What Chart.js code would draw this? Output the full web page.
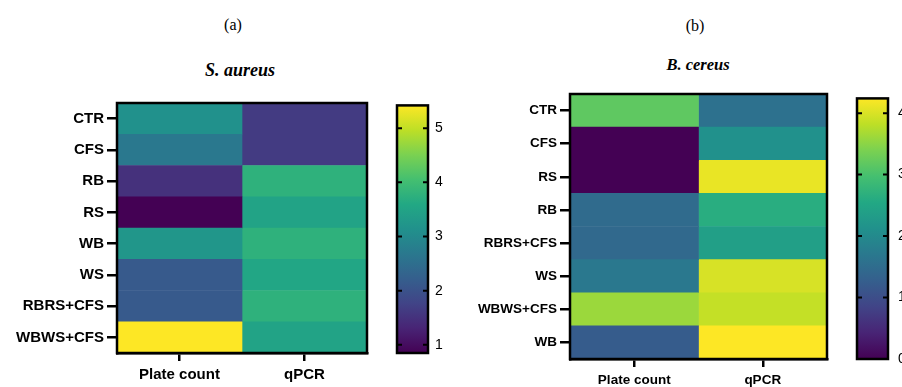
<!DOCTYPE html>
<html>
<head>
<meta charset="utf-8">
<script src="https://cdn.jsdelivr.net/npm/chart.js@4/dist/chart.umd.min.js"></script>
<style>
    body { margin: 0; background: #fff; }
    #wrap { position: relative; width: 902px; height: 387px; overflow: hidden; background: #fff; }
    canvas { position: absolute; }
    .lbl { position: absolute; width: 200px; text-align: center; font-family: 'Liberation Serif', 'Times New Roman', serif; color: #000; }
    .sp { font-weight: bold; font-style: italic; }
</style>
</head>
<body>
<div id="wrap">
    <div class="lbl" style="left:133px; top:14px; font-size:16px; line-height:22px;">(a)</div>
    <div class="lbl sp" style="left:140px; top:59px; font-size:18px; line-height:22px;">S. aureus</div>
    <div class="lbl" style="left:595px; top:15px; font-size:16px; line-height:22px;">(b)</div>
    <div class="lbl sp" style="left:598px; top:54px; font-size:16.5px; line-height:22px;">B. cereus</div>

    <canvas id="heatA" width="380" height="297" style="left:0; top:90px;"></canvas>
    <canvas id="barA" width="70" height="297" style="left:380px; top:90px;"></canvas>
    <canvas id="heatB" width="390" height="307" style="left:450px; top:80px;"></canvas>
    <canvas id="barB" width="80" height="307" style="left:840px; top:80px;"></canvas>
</div>
<script>
// data
const columns = ['Plate count', 'qPCR'];

const rowsA = ['CTR', 'CFS', 'RB', 'RS', 'WB', 'WS', 'RBRS+CFS', 'WBWS+CFS'];
const plateA = [3.14, 2.68, 1.49, 0.85, 3.23, 2.13, 2.13, 5.42];
const qpcrA = [1.63, 1.63, 3.77, 3.50, 3.77, 3.55, 3.77, 3.50];
const rangeA = [0.85, 5.42];
const ticksA = [1, 2, 3, 4, 5];

const rowsB = ['CTR', 'CFS', 'RS', 'RB', 'RBRS+CFS', 'WS', 'WBWS+CFS', 'WB'];
const plateB = [3.18, 0, 0, 1.48, 1.44, 1.70, 3.60, 1.23];
const qpcrB = [1.57, 2.12, 4.11, 2.63, 2.37, 3.99, 3.86, 4.24];
const rangeB = [0, 4.24];
const ticksB = [0, 1, 2, 3, 4];

Chart.defaults.font.family = "'Liberation Sans', Arial, sans-serif";
Chart.defaults.color = '#000';

// viridis colormap stops
const viridis = ['#440154', '#482475', '#414487', '#355f8d', '#2a788e', '#21918c',
    '#22a884', '#44bf70', '#7ad151', '#bddf26', '#fde725'];

function hexRgb(h) {
    return [parseInt(h.slice(1, 3), 16), parseInt(h.slice(3, 5), 16), parseInt(h.slice(5, 7), 16)];
}

function viridisColor(t) {
    t = Math.max(0, Math.min(1, t));
    const p = t * (viridis.length - 1);
    const i = Math.min(Math.floor(p), viridis.length - 2);
    const f = p - i;
    const a = hexRgb(viridis[i]), b = hexRgb(viridis[i + 1]);
    const c = a.map((v, k) => Math.round(v + (b[k] - v) * f));
    return `rgb(${c[0]}, ${c[1]}, ${c[2]})`;
}

const framePlugin = {
    id: 'frame',
    afterDatasetsDraw(chart) {
        const { ctx, chartArea: a } = chart;
        ctx.save();
        ctx.strokeStyle = '#000';
        ctx.lineWidth = 2.5;
        ctx.strokeRect(a.left, a.top, a.right - a.left, a.bottom - a.top);
        ctx.restore();
    }
};

// small inward tick marks on both sides of the colour bar
const innerTicks = {
    id: 'innerTicks',
    afterDatasetsDraw(chart) {
        const { ctx, chartArea: a } = chart;
        const y = chart.scales.y;
        ctx.save();
        ctx.strokeStyle = '#000';
        ctx.lineWidth = 2;
        y.ticks.forEach(t => {
            const py = y.getPixelForValue(t.value);
            ctx.beginPath();
            ctx.moveTo(a.left, py); ctx.lineTo(a.left + 5, py);
            ctx.moveTo(a.right - 5, py); ctx.lineTo(a.right, py);
            ctx.stroke();
        });
        ctx.restore();
    }
};

function createHeatmap(id, rows, values, range, opts) {
    const span = range[1] - range[0];
    new Chart(document.getElementById(id), {
        type: 'bar',
        data: {
            labels: rows,
            datasets: columns.map((c, j) => ({
                label: c,
                data: rows.map(() => [j, j + 1]),
                backgroundColor: values[j].map(v => viridisColor((v - range[0]) / span)),
                barPercentage: 1,
                categoryPercentage: 1,
                grouped: false,
                borderWidth: 0
            }))
        },
        options: {
            indexAxis: 'y',
            responsive: false,
            animation: false,
            layout: { padding: opts.padding },
            plugins: { legend: { display: false }, tooltip: { enabled: false } },
            scales: {
                x: {
                    type: 'linear',
                    min: 0,
                    max: 2,
                    afterBuildTicks: (scale) => { scale.ticks = [{ value: 0.5 }, { value: 1.5 }]; },
                    afterFit: (scale) => { scale.height = opts.xHeight; },
                    ticks: {
                        callback: (v, i) => columns[i],
                        font: { size: opts.fontSize, weight: 'bold' },
                        padding: 5,
                        maxRotation: 0
                    },
                    grid: { drawOnChartArea: false, tickLength: 8, color: '#000', lineWidth: 2.5 },
                    border: { color: '#000', width: 2.5 }
                },
                y: {
                    afterFit: (scale) => { scale.width = opts.yWidth; },
                    ticks: { font: { size: opts.fontSize, weight: 'bold' }, padding: 3 },
                    grid: { offset: false, drawOnChartArea: false, tickLength: 10, color: '#000', lineWidth: 2.5 },
                    border: { color: '#000', width: 2.5 }
                }
            }
        },
        plugins: [framePlugin]
    });
}

function createColorbar(id, range, tickList, opts) {
    new Chart(document.getElementById(id), {
        type: 'bar',
        data: {
            labels: [''],
            datasets: [{
                data: [range],
                backgroundColor: (context) => {
                    const area = context.chart.chartArea;
                    if (!area) return viridis[0];
                    const g = context.chart.ctx.createLinearGradient(0, area.bottom, 0, area.top);
                    viridis.forEach((c, i) => g.addColorStop(i / (viridis.length - 1), c));
                    return g;
                },
                barPercentage: 1,
                categoryPercentage: 1,
                borderWidth: 0
            }]
        },
        options: {
            responsive: false,
            animation: false,
            layout: { padding: opts.padding },
            plugins: { legend: { display: false }, tooltip: { enabled: false } },
            scales: {
                x: { display: false },
                y: {
                    position: 'right',
                    min: range[0],
                    max: range[1],
                    afterBuildTicks: (scale) => { scale.ticks = tickList.map(v => ({ value: v })); },
                    afterFit: (scale) => { scale.width = opts.yWidth; },
                    ticks: { font: { size: 14 }, padding: opts.tickPad },
                    grid: { display: false, drawTicks: false },
                    border: { display: false }
                }
            }
        },
        plugins: [framePlugin, innerTicks]
    });
}

createHeatmap('heatA', rowsA, [plateA, qpcrA], rangeA,
    { padding: { top: 13, right: 13, left: 0, bottom: 0 }, xHeight: 34, yWidth: 117, fontSize: 15 });
createColorbar('barA', rangeA, ticksA,
    { padding: { top: 13, left: 17, right: 0, bottom: 34 }, yWidth: 22, tickPad: 7 });

createHeatmap('heatB', rowsB, [plateB, qpcrB], rangeB,
    { padding: { top: 14, right: 13, left: 0, bottom: 0 }, xHeight: 28, yWidth: 120, fontSize: 13.5 });
createColorbar('barB', rangeB, ticksB,
    { padding: { top: 14, left: 17, right: 0, bottom: 28 }, yWidth: 32, tickPad: 10 });
</script>
</body>
</html>
